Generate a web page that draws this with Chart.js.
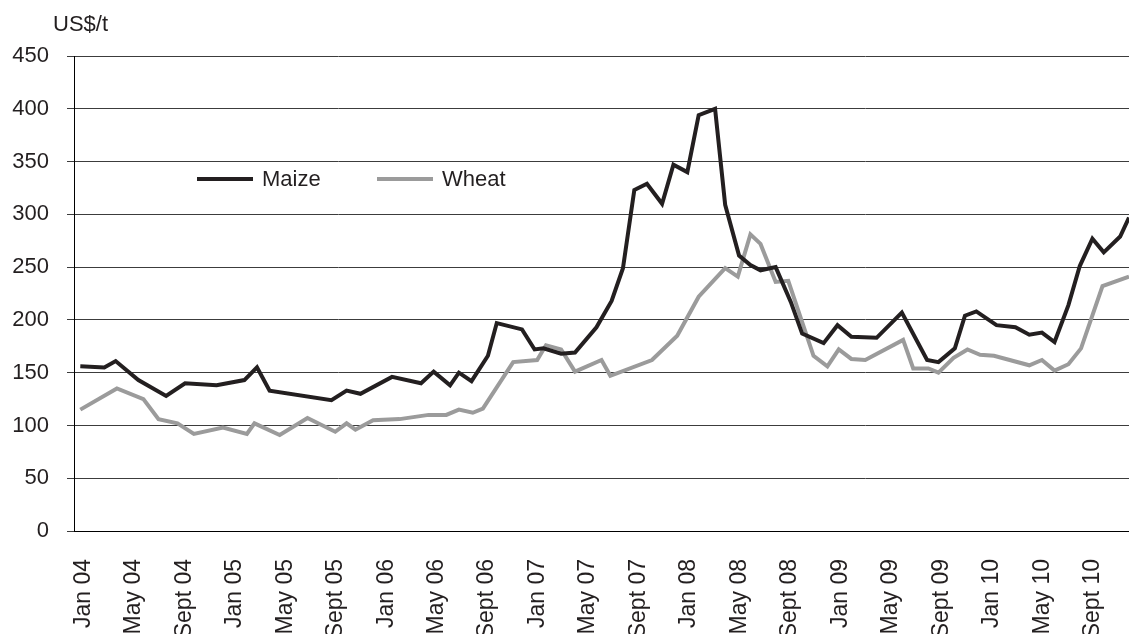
<!DOCTYPE html>
<html>
<head>
<meta charset="utf-8">
<script src="https://cdn.jsdelivr.net/npm/chart.js@4/dist/chart.umd.min.js"></script>
<style>
  body { margin: 0; background: #fff; }
</style>
</head>
<body>
<canvas id="prices" width="1129" height="634"></canvas>
<script>
// months counted from Jan 04 (= 0)
var tickMonths = [0, 4, 8, 12, 16, 20, 24, 28, 32, 36, 40, 44, 48, 52, 56, 60, 64, 68, 72, 76, 80];
var tickLabels = ["Jan 04", "May 04", "Sept 04", "Jan 05", "May 05", "Sept 05", "Jan 06", "May 06", "Sept 06",
  "Jan 07", "May 07", "Sept 07", "Jan 08", "May 08", "Sept 08", "Jan 09", "May 09", "Sept 09", "Jan 10", "May 10", "Sept 10"];

var maizeMonths = [0, 1.9, 2.8, 4.6, 6.8, 8.3, 10.8, 13, 14, 15, 19.9, 21.1, 22.2, 24.7, 27, 28, 29.3, 30, 31, 32.3,
  33, 35, 36, 36.7, 38.1, 39.2, 40.9, 42.1, 43, 43.9, 44.9, 46.1, 47, 48.1, 49, 50.3, 51.1, 52.2, 53.1, 53.9,
  55.1, 56.3, 57.2, 58.9, 60, 61.1, 63.1, 65.1, 67.1, 68, 69.3, 70.1, 71, 72.6, 74.1, 75.2, 76.2, 77.2, 78.3,
  79.2, 80.2, 81.1, 82.4, 83.1];
var maizePrices = [156, 155, 161, 143, 128, 140, 138, 143, 155, 133, 124, 133, 130, 146, 140, 151, 138, 150, 142, 166,
  197, 191, 172, 173, 168, 169, 193, 218, 249, 323, 329, 310, 347, 340, 394, 400, 309, 261, 252, 247,
  250, 217, 187, 178, 195, 184, 183, 207, 162, 160, 173, 204, 208, 195, 193, 186, 188, 179, 214,
  251, 277, 264, 279, 297];

var wheatMonths = [0, 2.9, 5, 6.2, 7.7, 9, 11.3, 13.2, 13.8, 15.8, 18, 20.2, 21.1, 21.8, 23.2, 25.3, 27.6, 29, 30,
  31.1, 31.9, 34.3, 36.2, 36.9, 38.1, 39.2, 41.3, 42, 45.3, 47.3, 49, 51.1, 52.1, 53.1, 53.9, 55.1, 56.1,
  58.1, 59.2, 60.1, 61.1, 62.2, 65.2, 66, 67.2, 68, 69.2, 70.3, 71.3, 72.4, 75.2, 76.2, 77.2, 78.3, 79.3,
  81, 83.1];
var wheatPrices = [115, 135, 125, 106, 102, 92, 98, 92, 102, 91, 107, 94, 102, 96, 105, 106, 110, 110, 115,
  112, 116, 160, 162, 176, 172, 151, 162, 147, 162, 185, 222, 249, 241, 281, 272, 236, 237,
  166, 156, 172, 163, 162, 181, 154, 154, 150, 164, 172, 167, 166, 157, 162, 152, 158, 173,
  232, 241];

var unitLabel = "US$/t";
var font = "Liberation Sans";

function points(xs, ys) {
  return xs.map(function (x, i) { return { x: x, y: ys[i] }; });
}

// legend sits inside the plot, plus the unit label above the axis
var insideLegend = {
  id: 'insideLegend',
  afterDraw: function (chart) {
    var ctx = chart.ctx;
    ctx.save();
    ctx.font = "22px '" + font + "'";
    ctx.fillStyle = '#231f20';
    ctx.textBaseline = 'middle';
    ctx.textAlign = 'left';
    ctx.fillText(unitLabel, 53, 25);

    var starts = [197, 377];
    chart.data.datasets.forEach(function (ds, i) {
      var x = starts[i], y = 179;
      ctx.strokeStyle = ds.borderColor;
      ctx.lineWidth = 4;
      ctx.beginPath();
      ctx.moveTo(x, y);
      ctx.lineTo(x + 56, y);
      ctx.stroke();
      ctx.fillStyle = '#231f20';
      ctx.fillText(ds.label, x + 65, y + 1);
    });
    ctx.restore();
  }
};

var ctxEl = document.getElementById("prices");
var chart = new Chart(ctxEl, {
  type: 'line',
  data: {
    datasets: [{
      label: 'Maize',
      data: points(maizeMonths, maizePrices),
      borderColor: '#231f20',
      borderWidth: 4,
      pointRadius: 0,
      tension: 0,
      borderJoinStyle: 'miter'
    }, {
      label: 'Wheat',
      data: points(wheatMonths, wheatPrices),
      borderColor: '#9b9b9b',
      borderWidth: 4,
      pointRadius: 0,
      tension: 0,
      borderJoinStyle: 'miter'
    }]
  },
  options: {
    responsive: false,
    animation: false,
    layout: { padding: { top: 56, right: 0, left: 0, bottom: 0 } },
    plugins: {
      legend: { display: false },
      tooltip: { enabled: false }
    },
    scales: {
      x: {
        type: 'linear',
        min: -0.5,
        max: 83.1,
        afterBuildTicks: function (axis) {
          axis.ticks = tickMonths.map(function (v) { return { value: v }; });
        },
        afterFit: function (axis) {
          axis.height = 103;
          axis.paddingLeft = 0;
          axis.paddingRight = 0;
        },
        grid: { display: false, drawTicks: false, tickLength: 0 },
        border: { display: true, color: '#000', width: 1 },
        ticks: {
          autoSkip: false,
          minRotation: 90,
          maxRotation: 90,
          padding: 28,
          labelOffset: 3,
          color: '#231f20',
          font: { family: font, size: 23 },
          callback: function (value, index) { return tickLabels[index]; }
        }
      },
      y: {
        min: 0,
        max: 450,
        afterFit: function (axis) { axis.width = 74; },
        grid: { color: '#3c3c3c', lineWidth: 1, tickLength: 7 },
        border: { display: true, color: '#000', width: 1 },
        ticks: {
          stepSize: 50,
          padding: 18,
          color: '#231f20',
          font: { family: font, size: 22 }
        }
      }
    }
  },
  plugins: [insideLegend]
});
</script>
</body>
</html>
